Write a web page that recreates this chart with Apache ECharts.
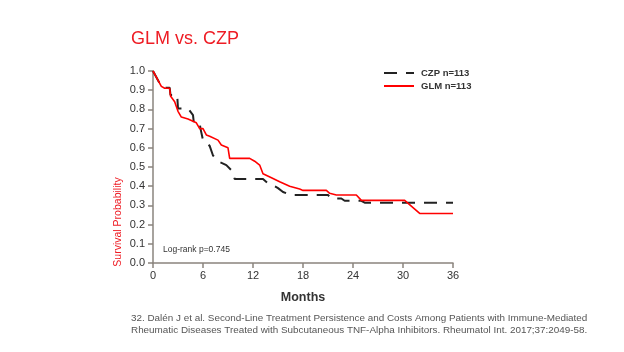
<!DOCTYPE html>
<html>
<head>
<meta charset="utf-8">
<script src="https://cdn.jsdelivr.net/npm/echarts@6/dist/echarts.min.js"></script>
<style>
  html, body { margin: 0; padding: 0; background: #fff; }
  #chart { width: 624px; height: 352px; }
</style>
</head>
<body>
<div id="chart"></div>
<script>
// months, survival probability
var glmCurve = [
  [0, 1.0], [1.0, 0.92], [1.4, 0.91], [2.0, 0.91], [2.1, 0.87], [2.6, 0.84], [3.0, 0.79],
  [3.4, 0.76], [4.2, 0.75], [5.2, 0.73], [5.6, 0.70], [6.0, 0.70], [6.4, 0.667], [6.8, 0.66],
  [7.8, 0.64], [8.2, 0.615], [9.0, 0.60], [9.2, 0.545], [11.6, 0.545], [12.2, 0.53],
  [12.8, 0.51], [13.2, 0.465], [14.4, 0.44], [15.2, 0.423], [16.4, 0.40], [17.6, 0.385],
  [18.0, 0.378], [20.8, 0.378], [21.2, 0.363], [22.0, 0.354], [24.4, 0.354], [25.0, 0.326],
  [30.2, 0.326], [32.0, 0.258], [36.0, 0.258]
];
var czpCurve = [
  [0, 1.0], [1.0, 0.92], [1.4, 0.913], [2.0, 0.913], [2.1, 0.875], [2.9, 0.875], [3.0, 0.805],
  [4.2, 0.805], [4.8, 0.77], [4.9, 0.73], [5.6, 0.728], [5.7, 0.70], [6.0, 0.64], [6.8, 0.61],
  [7.2, 0.56], [7.8, 0.53], [8.8, 0.51], [9.6, 0.475], [9.8, 0.437], [13.2, 0.437],
  [13.8, 0.415], [14.6, 0.40], [15.0, 0.39], [15.6, 0.37], [16.6, 0.354], [21.0, 0.354],
  [21.4, 0.336], [22.6, 0.336], [23.0, 0.324], [25.0, 0.324], [25.4, 0.314], [36.0, 0.314]
];
var seriesNames = ['CZP n=113', 'GLM n=113'];
var monthTicks = [0, 6, 12, 18, 24, 30, 36];

var titleText = 'GLM vs. CZP';
var pValueText = 'Log-rank p=0.745';
var footnote = [
  '32. Dalén J et al. Second-Line Treatment Persistence and Costs Among Patients with Immune-Mediated',
  'Rheumatic Diseases Treated with Subcutaneous TNF-Alpha Inhibitors. Rheumatol Int. 2017;37:2049-58.'
];

var font = '"Liberation Sans", Arial, sans-serif';
var axisGrey = '#8a847e';

var myChart = echarts.init(document.getElementById('chart'), null, { renderer: 'canvas' });

var option = {
  backgroundColor: '#fff',
  animation: false,
  textStyle: { fontFamily: font },
  title: {
    text: titleText,
    left: 126, top: 25,
    textStyle: { color: '#ee1c24', fontSize: 18, fontWeight: 'normal', fontFamily: font }
  },
  legend: {
    orient: 'vertical',
    left: 378, top: 63,
    itemWidth: 30, itemHeight: 10, itemGap: 3,
    data: seriesNames,
    itemStyle: { opacity: 0 },
    textStyle: { fontSize: 9.5, fontWeight: 'bold', color: '#333', fontFamily: font, padding: [0, 0, 0, 2] }
  },
  grid: { left: 153, right: 171, top: 71, bottom: 89, containLabel: false },
  xAxis: {
    type: 'value',
    min: 0, max: 36, interval: 6,
    name: 'Months',
    nameLocation: 'middle',
    nameGap: 28,
    nameTextStyle: { fontSize: 12.5, fontWeight: 'bold', color: '#333', fontFamily: font },
    axisLine: { show: true, onZero: false, lineStyle: { color: axisGrey, width: 1.5 } },
    axisTick: { show: true, length: 5, lineStyle: { color: axisGrey, width: 1.5 } },
    axisLabel: {
      fontSize: 11, color: '#333', margin: 7,
      formatter: function (v) { return monthTicks.indexOf(v) >= 0 ? String(v) : ''; }
    },
    splitLine: { show: false }
  },
  yAxis: {
    type: 'value',
    min: 0, max: 1, interval: 0.1,
    axisLine: { show: true, lineStyle: { color: axisGrey, width: 1.5 } },
    axisTick: { show: true, length: 5, lineStyle: { color: axisGrey, width: 1.5 } },
    axisLabel: {
      fontSize: 11, color: '#333', margin: 8,
      formatter: function (v) { return v.toFixed(1); }
    },
    splitLine: { show: false }
  },
  graphic: [
    {
      type: 'text',
      x: 118, y: 222,
      rotation: Math.PI / 2,
      style: {
        text: 'Survival Probability',
        fill: '#ee1c24',
        font: '10.5px ' + font,
        textAlign: 'center',
        textVerticalAlign: 'middle'
      }
    },
    {
      type: 'text',
      left: 163, top: 245,
      style: { text: pValueText, fill: '#333', font: '8.5px ' + font }
    },
    {
      type: 'text',
      left: 131, top: 312,
      style: { text: footnote.join('\n'), fill: '#555', font: '9.9px ' + font, lineHeight: 12 }
    }
  ],
  series: [
    {
      name: seriesNames[0],
      type: 'line',
      data: czpCurve,
      symbol: 'none',
      z: 2,
      lineStyle: { color: '#222', width: 2, type: [13, 9] },
      itemStyle: { color: '#444' }
    },
    {
      name: seriesNames[1],
      type: 'line',
      data: glmCurve,
      symbol: 'none',
      z: 3,
      lineStyle: { color: '#ff0000', width: 1.6 },
      itemStyle: { color: '#ff0000' }
    }
  ]
};

myChart.setOption(option);
</script>
</body>
</html>
